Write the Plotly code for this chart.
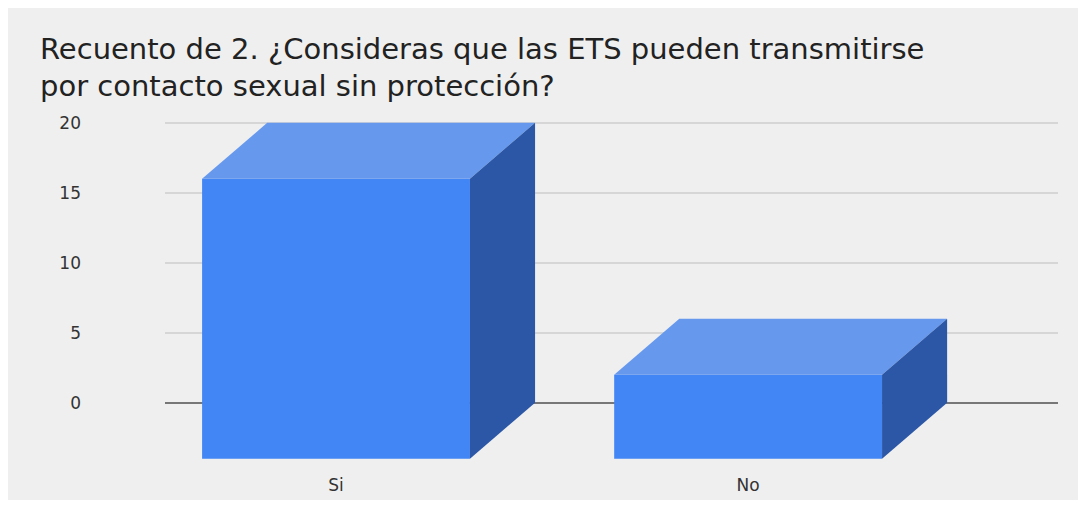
import plotly.graph_objects as go

categories = ["Si", "No"]
values = [20, 6]
y_ticks = [0, 5, 10, 15, 20]
title_lines = [
    "Recuento de 2. ¿Consideras que las ETS pueden transmitirse",
    "por contacto sexual sin protección?",
]

DEPTH_Y = 4.0      # vertical depth offset (data units)
DEPTH_X = 0.158    # horizontal depth offset (category units)
BAR_W = 0.65

FRONT = "#4285F4"
TOP = "#6699EE"
SIDE = "#2B57A6"
FONT = "DejaVu Sans, Liberation Sans, Arial, sans-serif"

xs = list(range(len(categories)))
fig = go.Figure()

# front faces
fig.add_trace(go.Bar(
    x=xs, y=values, base=[-DEPTH_Y] * len(values), width=BAR_W,
    marker=dict(color=FRONT, line=dict(width=0)), hoverinfo="skip",
    showlegend=False,
))
# top and side faces
for c, v in zip(xs, values):
    l, r = c - BAR_W / 2, c + BAR_W / 2
    fig.add_trace(go.Scatter(
        x=[l, r, r + DEPTH_X, l + DEPTH_X, l],
        y=[v - DEPTH_Y, v - DEPTH_Y, v, v, v - DEPTH_Y],
        fill="toself", fillcolor=TOP, mode="lines", line=dict(width=0),
        hoverinfo="skip", showlegend=False,
    ))
    fig.add_trace(go.Scatter(
        x=[r, r + DEPTH_X, r + DEPTH_X, r, r],
        y=[v - DEPTH_Y, v, 0, -DEPTH_Y, v - DEPTH_Y],
        fill="toself", fillcolor=SIDE, mode="lines", line=dict(width=0),
        hoverinfo="skip", showlegend=False,
    ))

PLOT_H = 357
annotations = []
for line, yc in zip(title_lines, [49, 86]):
    annotations.append(dict(
        text=line, xref="paper", yref="paper",
        x=(38 - 165) / 893, y=(470 - yc) / PLOT_H,
        xanchor="left", yanchor="middle", showarrow=False,
        font=dict(family=FONT, size=29, color="#222"),
    ))

fig.update_layout(
    width=1089, height=505,
    margin=dict(l=157, r=39, t=105, b=505 - 105 - PLOT_H),
    paper_bgcolor="white",
    plot_bgcolor="rgba(0,0,0,0)",
    font=dict(family=FONT, color="#444"),
    annotations=annotations,
    xaxis=dict(
        range=[-0.415, 1.752], tickvals=xs, ticktext=categories,
        showgrid=False, zeroline=False, showline=False, ticks="",
        tickfont=dict(size=17, color="#333"), ticklabelstandoff=3,
    ),
    yaxis=dict(
        range=[-4.8, 20.7], tickvals=y_ticks,
        showgrid=True, gridcolor="#d6d6d6", gridwidth=1.5,
        zeroline=True, zerolinecolor="#777", zerolinewidth=2,
        showline=False, ticks="",
        tickfont=dict(size=17, color="#333"), ticklabelstandoff=83,
    ),
    shapes=[dict(
        type="rect", xref="paper", yref="paper",
        x0=-0.179, x1=1.0224, y0=-0.084, y1=1.297,
        fillcolor="#efefef", line=dict(width=0), layer="below",
    )],
)

fig.write_html("out.html")
